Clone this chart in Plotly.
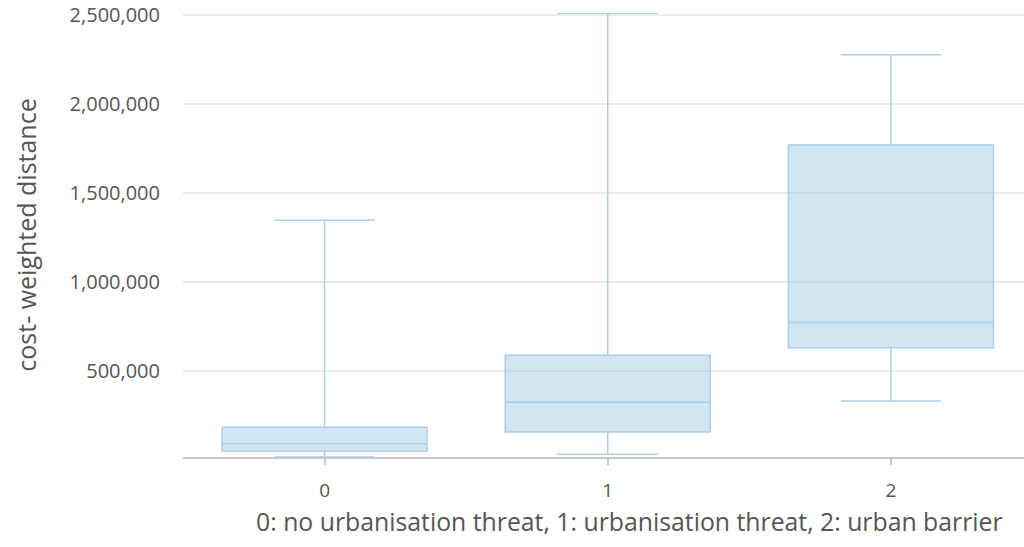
import plotly.graph_objects as go

categories = ["0", "1", "2"]
lower_whisker = [18000, 34000, 333000]
q1_vals = [52000, 159000, 631000]
median_vals = [93000, 326000, 774000]
q3_vals = [185000, 590000, 1770000]
upper_whisker = [1348000, 2510000, 2277000]

y_ticks = [500000, 1000000, 1500000, 2000000, 2500000]
x_title = "0: no urbanisation threat, 1: urbanisation threat, 2: urban barrier"
y_title = "cost- weighted distance"

fig = go.Figure()
fig.add_trace(go.Box(
    x=categories,
    q1=q1_vals,
    median=median_vals,
    q3=q3_vals,
    lowerfence=lower_whisker,
    upperfence=upper_whisker,
    width=0.724,
    fillcolor="rgba(166,206,228,0.5)",
    line=dict(color="#a9d0e6", width=1.5),
    whiskerwidth=0.49,
    boxpoints=False,
    hoverinfo="skip",
    showlegend=False,
))

font_family = "Open Sans, Segoe UI, sans-serif"
fig.update_layout(
    width=1024, height=547,
    margin=dict(l=183, r=0, t=13, b=90, autoexpand=False),
    paper_bgcolor="white", plot_bgcolor="white",
    font=dict(family=font_family, size=19, color="#555555"),
    xaxis=dict(
        type="category",
        range=[-0.5, 2.47],
        automargin=False,
        showgrid=False,
        showline=True, linecolor="#c8c8c8", linewidth=2,
        ticks="outside", tickcolor="#c8c8c8", ticklen=6, tickwidth=2,
        ticklabelstandoff=9,
        tickfont=dict(size=19, color="#555555"),
        zeroline=False,
    ),
    yaxis=dict(
        range=[18000, 2512000],
        automargin=False,
        tickvals=y_ticks,
        tickformat=",",
        showgrid=True, gridcolor="#ebebeb", gridwidth=1.5,
        zeroline=False, showline=False,
        ticks="", ticklabelstandoff=22,
        tickfont=dict(size=20, color="#555555"),
        title=dict(text=y_title, font=dict(size=25, color="#555555"), standoff=25),
    ),
    annotations=[dict(
        text=x_title,
        xref="paper", yref="paper", x=(1005 - 183) / 841, y=-(521 - 457) / 444,
        xanchor="right", yanchor="middle",
        showarrow=False,
        font=dict(size=24.8, color="#555555"),
    )],
)

fig.write_html(
    "out.html",
    config={"displayModeBar": False},
    post_script="document.body.style.margin='0px';",
)
